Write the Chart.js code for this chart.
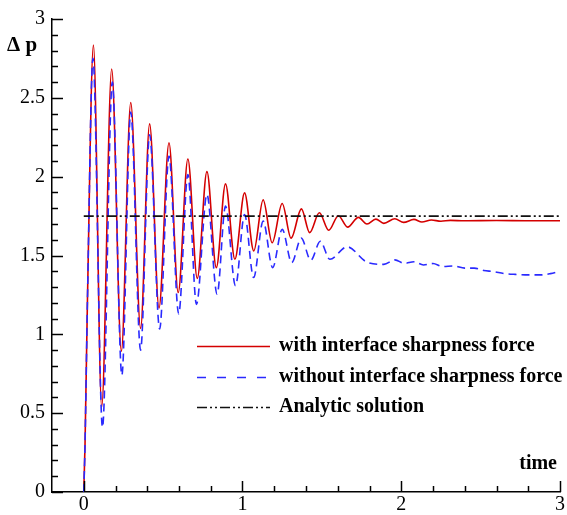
<!DOCTYPE html>
<html><head><meta charset="utf-8">
<script src="https://cdn.jsdelivr.net/npm/chart.js@4/dist/chart.umd.min.js"></script>
<style>html,body{margin:0;padding:0;background:#fff;}canvas{display:block;}</style>
</head><body>
<canvas id="c" width="567" height="515"></canvas>
<script>
// ---- data ----
const seriesLabels = ['with interface sharpness force','without interface sharpness force','Analytic solution'];
const redTime = [0,0.008,0.023,0.061,0.113,0.176,0.237,0.296,0.358,0.415,0.474,0.537,0.595,0.656,0.715,0.776,0.835,0.893,0.952,1.013,1.071,1.13,1.187,1.25,1.306,1.371,1.423,1.484,1.543,1.604,1.662,1.73,1.784,1.84,1.89,1.96,2.015,2.08,2.13,2.19,2.25,2.31,2.4,2.6,2.8,3.0];
const redDp   = [0,0.3,1.2,2.834,0.539,2.683,0.893,2.47,1.038,2.335,1.167,2.215,1.265,2.112,1.355,2.032,1.423,1.954,1.476,1.897,1.529,1.853,1.581,1.83,1.61,1.796,1.645,1.771,1.66,1.752,1.68,1.742,1.70,1.731,1.704,1.733,1.71,1.729,1.712,1.725,1.717,1.723,1.72,1.722,1.72,1.72];
const blueTime = [0,0.008,0.023,0.058,0.118,0.18,0.24,0.296,0.358,0.415,0.478,0.537,0.598,0.656,0.71,0.776,0.84,0.893,0.956,1.013,1.07,1.13,1.19,1.25,1.31,1.37,1.43,1.49,1.55,1.66,1.78,1.89,1.96,2.02,2.08,2.14,2.20,2.26,2.33,2.40,2.46,2.52,2.58,2.65,2.72,2.80,2.88,2.94,3.0];
const blueDp   = [0,0.3,1.2,2.75,0.41,2.60,0.74,2.41,0.90,2.266,1.034,2.13,1.13,2.013,1.19,1.887,1.255,1.813,1.308,1.76,1.36,1.718,1.423,1.666,1.455,1.61,1.47,1.59,1.476,1.555,1.46,1.444,1.472,1.45,1.46,1.44,1.449,1.43,1.434,1.42,1.42,1.405,1.398,1.385,1.38,1.377,1.377,1.385,1.40];
const analyticTime = [0,3];
const analyticDp   = [1.75,1.75];
const xTickValues = [0,1,2,3];
const yTickValues = [0,0.5,1,1.5,2,2.5,3];
const xAxisTitle = 'time';
const yAxisTitle = 'Δ p';

const pts = (t,v) => t.map((x,i)=>({x:x,y:v[i]}));
const SERIF = '"Liberation Serif","Times New Roman",serif';

const minorTicks = {
  id:'minorTicks',
  afterDraw(chart){
    const ctx=chart.ctx, xs=chart.scales.x, ys=chart.scales.y, ca=chart.chartArea;
    ctx.save(); ctx.strokeStyle='#000'; ctx.lineWidth=1.5;
    for(let i=0;i<=15;i++){
      const v=i/5, px=Math.round(xs.getPixelForValue(v))+0.5;
      const len=(i%5===0)?11:6;
      ctx.beginPath(); ctx.moveTo(px,ca.bottom); ctx.lineTo(px,ca.bottom-len); ctx.stroke();
    }
    for(let i=0;i<=30;i++){
      const v=i/10, py=Math.round(ys.getPixelForValue(v))+0.5;
      const len=(i%5===0)?11:6;
      ctx.beginPath(); ctx.moveTo(ca.left,py); ctx.lineTo(ca.left+len,py); ctx.stroke();
    }
    ctx.restore();
  }
};

const texts = {
  id:'texts',
  afterDraw(chart){
    const ctx=chart.ctx;
    ctx.save(); ctx.fillStyle='#000';
    ctx.font='bold 21px '+SERIF; ctx.textAlign='left'; ctx.textBaseline='alphabetic';
    ctx.fillText(yAxisTitle,7,51);
    ctx.font='bold 20px '+SERIF; ctx.textAlign='right';
    ctx.fillText(xAxisTitle,557,469);
    // legend
    const rows=[346,377,407];
    chart.data.datasets.forEach((ds,i)=>{
      const y=rows[i];
      ctx.save();
      ctx.strokeStyle=ds.borderColor; ctx.lineWidth=1.5;
      ctx.setLineDash(ds.legendDash||[]);
      ctx.beginPath(); ctx.moveTo(197,y+0.5); ctx.lineTo(270,y+0.5); ctx.stroke();
      ctx.restore();
      ctx.font='bold 20px '+SERIF; ctx.textAlign='left'; ctx.textBaseline='middle';
      ctx.fillText(ds.label,279,y);
    });
    ctx.restore();
  }
};

new Chart(document.getElementById('c'),{
  type:'line',
  data:{datasets:[
    {label:seriesLabels[0],data:pts(redTime,redDp),borderColor:'#d40000',borderWidth:1.6,pointRadius:0,cubicInterpolationMode:'monotone',order:2,legendDash:[]},
    {label:seriesLabels[1],data:pts(blueTime,blueDp),borderColor:'#2a2aff',borderWidth:1.6,borderDash:[8,5],pointRadius:0,cubicInterpolationMode:'monotone',order:1,legendDash:[9,11]},
    {label:seriesLabels[2],data:pts(analyticTime,analyticDp),borderColor:'#111',borderWidth:1.6,borderDash:[10,3,2,3,2,3],pointRadius:0,order:0,legendDash:[10,3,2,3,2,3]}
  ]},
  options:{
    responsive:false, animation:false, devicePixelRatio:1,
    layout:{padding:{top:17,right:7,left:0,bottom:0}},
    plugins:{legend:{display:false},tooltip:{enabled:false}},
    scales:{
      x:{type:'linear',min:-0.2,max:3,
        afterBuildTicks:s=>{s.ticks=xTickValues.map(v=>({value:v}));},
        afterFit:s=>{s.height=23;},
        ticks:{autoSkip:false,maxRotation:0,padding:1,color:'#000',font:{family:SERIF,size:20},callback:v=>String(v)},
        grid:{display:false,drawTicks:false},
        border:{display:true,color:'#000',width:1.5}},
      y:{type:'linear',min:0,max:3,
        afterBuildTicks:s=>{s.ticks=yTickValues.map(v=>({value:v}));},
        afterFit:s=>{s.width=52;},
        ticks:{autoSkip:false,padding:7,color:'#000',font:{family:SERIF,size:20},callback:v=>String(v)},
        grid:{display:false,drawTicks:false},
        border:{display:true,color:'#000',width:1.5}}
    }
  },
  plugins:[minorTicks,texts]
});
</script>
</body></html>
